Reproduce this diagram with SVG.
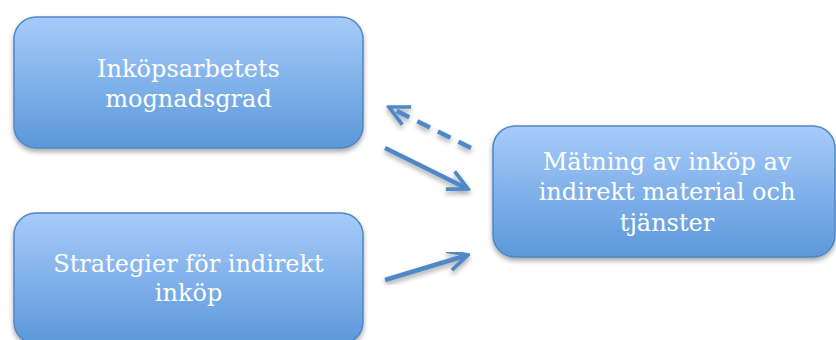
<svg xmlns="http://www.w3.org/2000/svg" width="836" height="340" viewBox="0 0 836 340">
  <defs>
    <linearGradient id="boxFill" x1="0" y1="0" x2="0" y2="1">
      <stop offset="0" stop-color="#a7cbfa"/>
      <stop offset="1" stop-color="#5b98da"/>
    </linearGradient>
    <filter id="shadow" x="-10%" y="-10%" width="120%" height="130%">
      <feDropShadow dx="0" dy="3" stdDeviation="2.5" flood-color="#000" flood-opacity="0.35"/>
    </filter>
    <marker id="chevron" viewBox="0 0 10 10" refX="9" refY="5" markerWidth="5.5" markerHeight="5.5" orient="auto" markerUnits="strokeWidth">
      <path d="M1,1 L9,5 L1,9" fill="none" stroke="#4f88c8" stroke-width="1.5" stroke-linecap="butt" stroke-linejoin="miter"/>
    </marker>
  </defs>
  <style>
    .box { fill: url(#boxFill); stroke: #5087c2; stroke-width: 1.5; filter: url(#shadow); }
    .label { font-family: "DejaVu Serif", "Liberation Serif", serif; font-size: 24px; fill: #ffffff; text-anchor: middle; }
    .link { fill: none; stroke: #4f88c8; stroke-width: 4.5; marker-end: url(#chevron); filter: url(#shadow); }
    .dashed { stroke-dasharray: 14 9; }
  </style>

  <g id="node-mognadsgrad">
    <rect class="box" x="14" y="17" width="349" height="131" rx="22"/>
    <text class="label" x="188.5" y="77">Inköpsarbetets</text>
    <text class="label" x="188.5" y="107">mognadsgrad</text>
  </g>

  <g id="node-strategier">
    <rect class="box" x="14" y="213" width="349" height="131" rx="22"/>
    <text class="label" x="188.5" y="272">Strategier för indirekt</text>
    <text class="label" x="188.5" y="301">inköp</text>
  </g>

  <g id="node-matning">
    <rect class="box" x="493" y="126" width="342" height="131" rx="22"/>
    <text class="label" x="667" y="170">Mätning av inköp av</text>
    <text class="label" x="667" y="200">indirekt material och</text>
    <text class="label" x="667" y="231">tjänster</text>
  </g>

  <g id="connectors">
    <line class="link dashed" x1="471" y1="148" x2="389" y2="107"/>
    <line class="link" x1="385" y1="148" x2="468" y2="189"/>
    <line class="link" x1="385" y1="280" x2="468" y2="255"/>
  </g>
</svg>
